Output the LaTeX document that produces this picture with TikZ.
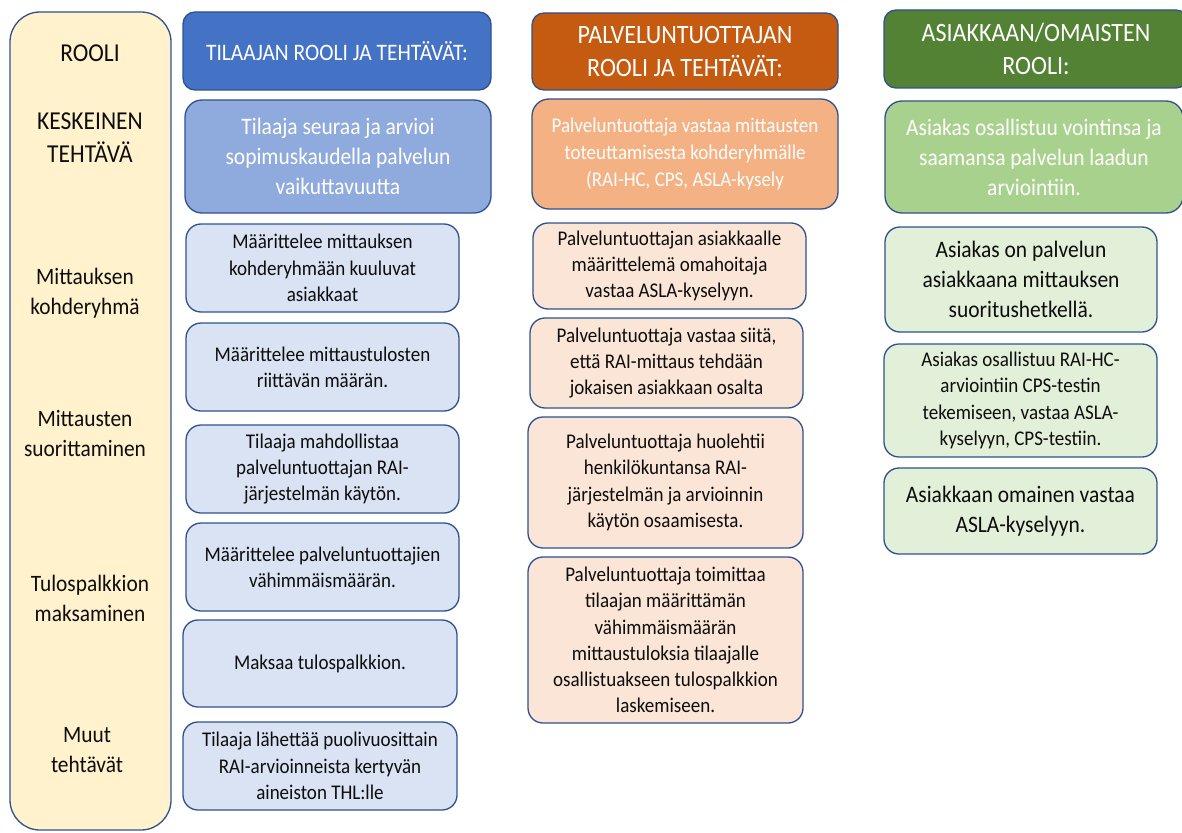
\documentclass[tikz,border=0pt]{standalone}
\usepackage{fontspec}
\setmainfont{Carlito}[FakeStretch=0.91]
\definecolor{bord}{HTML}{2F528F}
\definecolor{bhead}{HTML}{4472C4}
\definecolor{bkey}{HTML}{8FAADC}
\definecolor{blight}{HTML}{DAE3F3}
\definecolor{ohead}{HTML}{C55A11}
\definecolor{okey}{HTML}{F4B183}
\definecolor{olight}{HTML}{FBE5D6}
\definecolor{ghead}{HTML}{548235}
\definecolor{gkey}{HTML}{A9D18E}
\definecolor{glight}{HTML}{E2F0D9}
\definecolor{lfill}{HTML}{FFF2CC}
\definecolor{txt}{HTML}{0D0D0D}
\tikzset{
  box/.style={draw=bord, line width=1.3pt, align=center, inner sep=0pt, text=txt},
  headbox/.style={box, rounded corners=12pt, text=white},
  keybox/.style={box, rounded corners=17pt, text=white},
  lightbox/.style={box, rounded corners=15pt},
  lab/.style={align=center, inner sep=0pt, text=txt},
  fsmall/.style={font=\fontsize{20.9}{26.3}\selectfont},
  fbig/.style={font=\fontsize{23.6}{30}\selectfont},
  flab/.style={font=\fontsize{23.5}{30}\selectfont},
  flabup/.style={font=\fontsize{25.8}{33}\selectfont},
}
\begin{document}
\begin{tikzpicture}[x=1pt,y=-1pt]
\useasboundingbox (0,0) rectangle (1182,832);
\fill[white] (0,0) rectangle (1182,832);

% left role column
\node[box, fill=lfill, rounded corners=30pt, minimum width=161pt, minimum height=818pt] (lb) at (90.5,421) {};
\node[lab, flabup] (l0) at (90,53) {ROOLI};
\node[lab, flabup] (l1) at (90,138) {KESKEINEN\\TEHTÄVÄ};
\node[lab, flab] (l2) at (85,293) {Mittauksen\\kohderyhmä};
\node[lab, flab] (l3) at (85,433) {Mittausten\\suorittaminen};
\node[lab, flab] (l4) at (90,598) {Tulospalkkion\\maksaminen};
\node[lab, flab] (l5) at (87,750) {Muut\\tehtävät};

% blue column
\node[headbox, fill=bhead, minimum width=308pt, minimum height=78pt, font=\fontsize{23.6}{30}\selectfont] (bh) at (337,51) {TILAAJAN ROOLI JA TEHTÄVÄT:};
\node[keybox, fill=bkey, minimum width=306pt, minimum height=113pt, fbig] (bk) at (338,156.5) {Tilaaja seuraa ja arvioi\\sopimuskaudella palvelun\\vaikuttavuutta};
\node[lightbox, fill=blight, fsmall, minimum width=273pt, minimum height=88pt] (b1) at (322.5,268) {Määrittelee mittauksen\\kohderyhmään kuuluvat\\asiakkaat};
\node[lightbox, fill=blight, fsmall, minimum width=273pt, minimum height=88pt] (b2) at (322.5,367) {Määrittelee mittaustulosten\\riittävän määrän.};
\node[lightbox, fill=blight, fsmall, minimum width=273pt, minimum height=88pt] (b3) at (322.5,469) {Tilaaja mahdollistaa\\palveluntuottajan RAI-\\järjestelmän käytön.};
\node[lightbox, fill=blight, fsmall, minimum width=273pt, minimum height=88pt] (b4) at (322.5,567) {Määrittelee palveluntuottajien\\vähimmäismäärän.};
\node[lightbox, fill=blight, fsmall, minimum width=274pt, minimum height=87pt] (b5) at (320,663.5) {Maksaa tulospalkkion.};
\node[lightbox, fill=blight, fsmall, minimum width=274pt, minimum height=88pt] (b6) at (320,766) {Tilaaja lähettää puolivuosittain\\RAI-arvioinneista kertyvän\\aineiston THL:lle};

% orange column
\node[headbox, fill=ohead, minimum width=306pt, minimum height=77pt, font=\fontsize{26.5}{33}\selectfont] (oh) at (685,51.5) {PALVELUNTUOTTAJAN\\ROOLI JA TEHTÄVÄT:};
\node[keybox, fill=okey, minimum width=306pt, minimum height=110pt, font=\fontsize{20.9}{27}\selectfont] (ok) at (685,154) {Palveluntuottaja vastaa mittausten\\toteuttamisesta kohderyhmälle\\(RAI-HC, CPS, ASLA-kysely};
\node[lightbox, fill=olight, fsmall, minimum width=273pt, minimum height=86pt] (o1) at (669.5,266) {Palveluntuottajan asiakkaalle\\määrittelemä omahoitaja\\vastaa ASLA-kyselyyn.};
\node[lightbox, fill=olight, fsmall, minimum width=273pt, minimum height=90pt] (o2) at (666.5,363) {Palveluntuottaja vastaa siitä,\\että RAI-mittaus tehdään\\jokaisen asiakkaan osalta};
\node[lightbox, fill=olight, fsmall, minimum width=275pt, minimum height=131pt] (o3) at (665.5,482.5) {Palveluntuottaja huolehtii\\henkilökuntansa RAI-\\järjestelmän ja arvioinnin\\käytön osaamisesta.};
\node[lightbox, fill=olight, fsmall, minimum width=275pt, minimum height=166pt] (o4) at (665.5,640) {Palveluntuottaja toimittaa\\tilaajan määrittämän\\vähimmäismäärän\\mittaustuloksia tilaajalle\\osallistuakseen tulospalkkion\\laskemiseen.};

% green column
\node[headbox, fill=ghead, minimum width=304pt, minimum height=78pt, font=\fontsize{26.4}{33}\selectfont] (gh) at (1036,49) {ASIAKKAAN/OMAISTEN\\ROOLI:};
\node[keybox, fill=gkey, minimum width=298pt, minimum height=112pt, fbig] (gk) at (1034,157) {Asiakas osallistuu vointinsa ja\\saamansa palvelun laadun\\arviointiin.};
\node[lightbox, fill=glight, fbig, minimum width=272pt, minimum height=105pt] (g1) at (1021,279.5) {Asiakas on palvelun\\asiakkaana mittauksen\\suoritushetkellä.};
\node[lightbox, fill=glight, fsmall, minimum width=273pt, minimum height=113pt] (g2) at (1020.5,400.5) {Asiakas osallistuu RAI-HC-\\arviointiin CPS-testin\\tekemiseen, vastaa ASLA-\\kyselyyn, CPS-testiin.};
\node[lightbox, fill=glight, fbig, minimum width=273pt, minimum height=86pt] (g3) at (1020.5,511) {Asiakkaan omainen vastaa\\ASLA-kyselyyn.};
\end{tikzpicture}
\end{document}
